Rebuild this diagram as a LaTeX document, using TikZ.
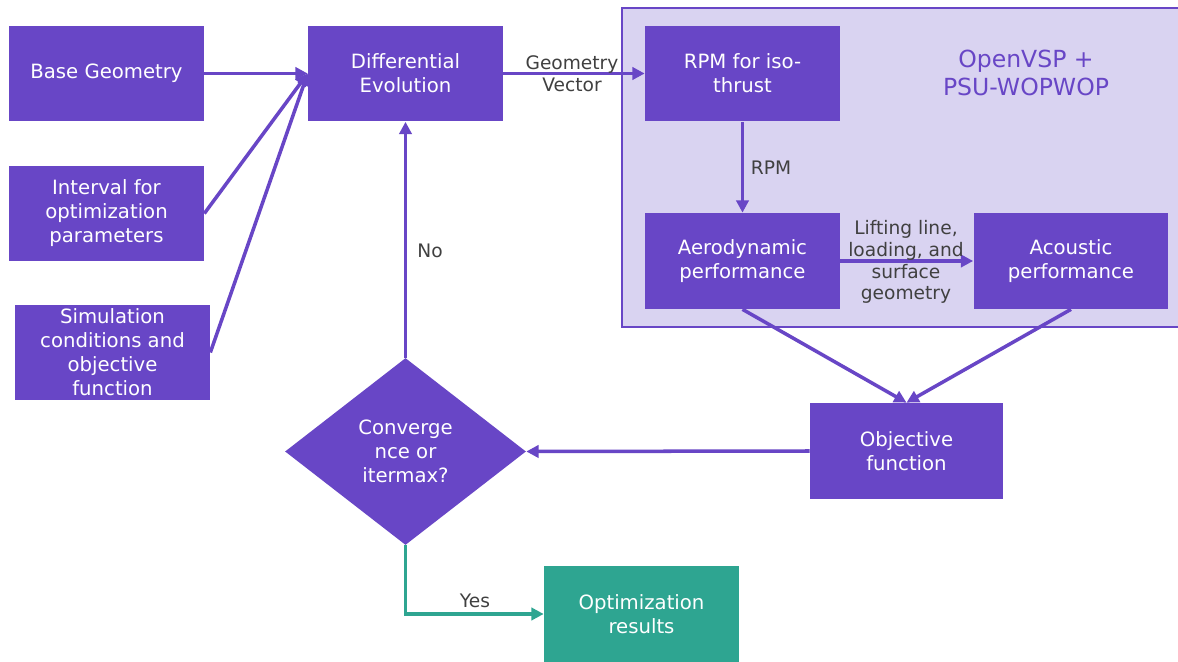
\documentclass[tikz,border=0pt]{standalone}
\usepackage{fontspec}
\setmainfont{DejaVu Sans}
\usetikzlibrary{arrows.meta,shapes.geometric}
\definecolor{pur}{HTML}{6846C6}
\definecolor{lav}{HTML}{D9D3F1}
\definecolor{grn}{HTML}{2EA591}
\definecolor{lbl}{HTML}{404040}
\begin{document}
\begin{tikzpicture}[x=0.02cm,y=-0.02cm,
  box/.style={fill=pur, text=white, minimum width=3.9cm, minimum height=1.92cm, inner sep=0pt, align=center, font=\fontsize{11.2}{13.7}\selectfont},
  conn/.style={draw=pur, line width=2pt, -{Triangle[length=7pt,width=7pt]}},
  lab/.style={text=lbl, align=center, inner sep=0pt, font=\fontsize{10.6}{12.6}\selectfont}]
\useasboundingbox (0,0) rectangle (1178,662);
\fill[white] (0,0) rectangle (1178,662);
\draw[pur, fill=lav, line width=1.1pt] (622,8) rectangle (1195,327);
\node[text=pur, align=center, font=\fontsize{13.4}{15.9}\selectfont] (title) at (1026,73) {OpenVSP +\\PSU-WOPWOP};

\node[box] (base) at (106.5,73.5) {Base Geometry};
\node[box] (intv) at (106.5,213.5) {Interval for\\optimization\\parameters};
\node[box] (sim) at (112.5,352.5) {Simulation\\conditions and\\objective\\function};
\node[box] (de) at (405.5,73.5) {Differential\\Evolution};
\node[box] (rpm) at (742.5,73.5) {RPM for iso-\\thrust};
\node[box] (aero) at (742.5,261) {Aerodynamic\\performance};
\node[box] (acou) at (1071,261) {Acoustic\\performance};
\node[box, minimum width=3.86cm] (obj) at (906.5,451) {Objective\\function};
\node[diamond, fill=pur, text=white, minimum width=4.82cm, minimum height=3.74cm, inner sep=0pt, align=center, font=\fontsize{11.2}{13.7}\selectfont] (dia) at (405.5,451.5) {Converge\\nce or\\itermax?};
\node[box, fill=grn] (res) at (641.5,614) {Optimization\\results};

\draw[conn] (base.east) -- (de.west);
\draw[conn] (intv.east) -- (de.west);
\draw[conn] (sim.east) -- (de.west);
\draw[conn] (de.east) -- (rpm.west);
\node[lab] (gv) at (572,74) {Geometry\\Vector};
\draw[conn] (rpm.south) -- (aero.north);
\node[lab] (rpml) at (771,168) {RPM};
\draw[conn] (aero.east) -- (acou.west);
\node[lab, font=\fontsize{10.6}{12.4}\selectfont] (ll) at (906,262) {Lifting line,\\loading, and\\surface\\geometry};
\draw[conn] (aero.south) -- (obj.north);
\draw[conn] (acou.south) -- (obj.north);
\draw[conn] (obj.west) -- (dia.east);
\draw[conn] (dia.north) -- (de.south);
\node[lab] (no) at (430,251) {No};
\draw[conn, draw=grn] (dia.south) |- (res.west);
\node[lab] (yes) at (475,601) {Yes};
\end{tikzpicture}
\end{document}
